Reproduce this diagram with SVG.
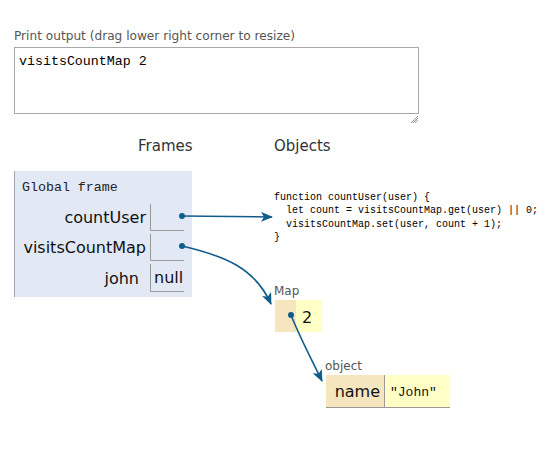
<svg xmlns="http://www.w3.org/2000/svg" width="555" height="456" viewBox="0 0 555 456">
<style>
.sans{font-family:"DejaVu Sans","Liberation Sans",sans-serif;}
.mono{font-family:"Liberation Mono","DejaVu Sans Mono",monospace;}
.lbl{font-size:16px;fill:#111;}
.small{font-size:12px;fill:#555;}
.cellb{stroke:#999;stroke-width:1;fill:none;}
.conn{stroke:#0f5d8c;stroke-width:1.6;fill:none;}
.dot{fill:#0f5d8c;}
</style>
<defs>
<marker id="arr" viewBox="0 0 12 10" refX="11" refY="5" markerWidth="12" markerHeight="10" markerUnits="userSpaceOnUse" orient="auto">
<path d="M0,0 L12,5 L0,10 L3,5 Z" fill="#0f5d8c"/>
</marker>
</defs>
<rect width="555" height="456" fill="#fff"/>

<g id="print-output">
<text x="14" y="40" class="sans" font-size="12.5" fill="#555" textLength="281" lengthAdjust="spacingAndGlyphs">Print output (drag lower right corner to resize)</text>
<rect x="14.5" y="47.5" width="404" height="66" fill="#fff" stroke="#a8a8a8"/>
<text x="19" y="65" class="mono" font-size="13.3" fill="#000">visitsCountMap 2</text>
<g stroke="#999" stroke-width="1">
<line x1="411" y1="123" x2="418" y2="116"/>
<line x1="413" y1="123" x2="418" y2="118"/>
<line x1="415" y1="123" x2="418" y2="120"/>
</g>
</g>

<g id="headers">
<text x="138" y="151" class="sans" font-size="15" fill="#333">Frames</text>
<text x="274" y="151" class="sans" font-size="15" fill="#333">Objects</text>
</g>

<g id="global-frame">
<rect x="14" y="171" width="178" height="126" fill="#e2e9f5"/>
<line x1="14.5" y1="171" x2="14.5" y2="297" stroke="#a0a8b4"/>
<text x="22" y="191" class="mono" font-size="13.3" fill="#222">Global frame</text>
<text x="146" y="223" class="sans lbl" text-anchor="end">countUser</text>
<path class="cellb" d="M150.5,204 V230.5 H184"/>
<text x="146" y="253" class="sans lbl" text-anchor="end">visitsCountMap</text>
<path class="cellb" d="M150.5,234 V260.5 H184"/>
<text x="139" y="284" class="sans lbl" text-anchor="end">john</text>
<path class="cellb" d="M150.5,264 V291.5 H184"/>
<text x="154" y="283" class="sans lbl">null</text>
</g>

<g id="function-countUser">
<text class="mono" font-size="10" fill="#000" xml:space="preserve"><tspan x="274" y="200">function countUser(user) {</tspan><tspan x="274" y="213">  let count = visitsCountMap.get(user) || 0;</tspan><tspan x="274" y="227">  visitsCountMap.set(user, count + 1);</tspan><tspan x="274" y="240">}</tspan></text>
</g>

<g id="map">
<text x="274" y="295" class="sans small" fill="#555">Map</text>
<rect x="275" y="300" width="21" height="32" fill="#f5e6c0"/>
<rect x="296" y="300" width="26" height="32" fill="#ffffc6"/>
<text x="302" y="323" class="sans lbl">2</text>
</g>

<g id="object-john">
<text x="325" y="370" class="sans small" fill="#555">object</text>
<rect x="326" y="375" width="58" height="32" fill="#f5e6c0"/>
<rect x="384" y="375" width="66" height="32" fill="#ffffc6"/>
<line x1="384.5" y1="375" x2="384.5" y2="407" stroke="#999"/>
<line x1="326" y1="407.5" x2="450" y2="407.5" stroke="#999"/>
<text x="380" y="397" class="sans lbl" text-anchor="end">name</text>
<text x="390" y="396" class="mono" font-size="13" fill="#111">"John"</text>
</g>

<g id="connectors">
<circle class="dot" cx="182" cy="216" r="3"/>
<path class="conn" d="M182,216 L272,217" marker-end="url(#arr)"/>
<circle class="dot" cx="182" cy="246" r="3"/>
<path class="conn" d="M182,246 C225,256 255,268 271,304" marker-end="url(#arr)"/>
<circle class="dot" cx="291" cy="315" r="3"/>
<path class="conn" d="M291,315 C300,338 312,360 322,381" marker-end="url(#arr)"/>
</g>
</svg>
